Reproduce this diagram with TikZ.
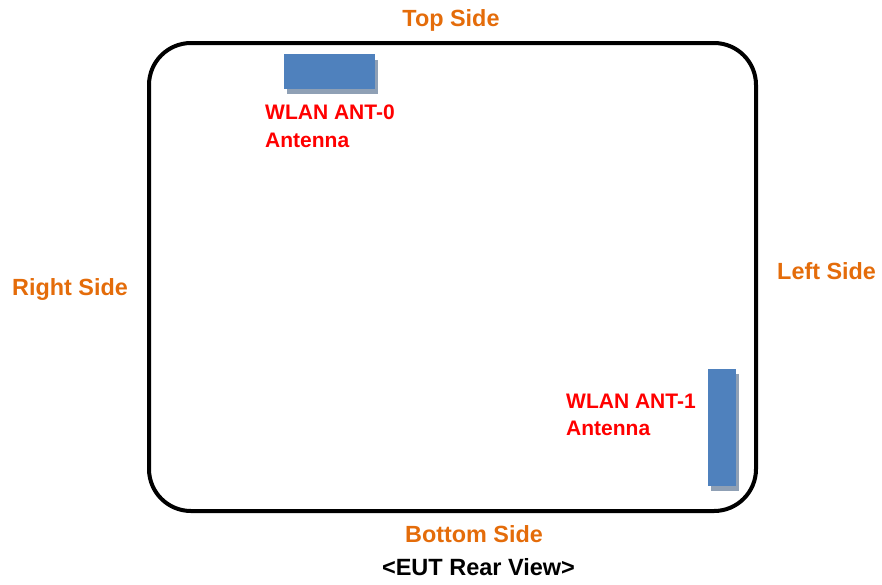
\documentclass[tikz,border=0pt]{standalone}
\usepackage{fontspec}
\setmainfont{Liberation Sans}
\definecolor{sideorange}{RGB}{228,108,10}
\definecolor{antblue}{RGB}{79,129,189}
\definecolor{antshadow}{RGB}{143,160,181}
\tikzset{
  sidelabel/.style={font=\fontsize{23.4}{27}\selectfont\bfseries, text=sideorange, inner sep=0pt},
  antlabel/.style={font=\fontsize{21}{27.5}\selectfont\bfseries, text=red, inner sep=0pt, align=left},
  titlelabel/.style={font=\fontsize{23.5}{27}\selectfont\bfseries, text=black, inner sep=0pt},
  antbody/.style={fill=antblue, draw=none},
  antshade/.style={fill=antshadow, draw=none},
}
\begin{document}
\begin{tikzpicture}[x=1pt,y=-1pt]
  \useasboundingbox (0,0) rectangle (882,584);
  % housing
  \draw[line width=4pt, rounded corners=42pt] (149,43) rectangle (756,511);
  % antenna 0
  \fill[antshade] (287,60) rectangle (378,94);
  \fill[antbody] (284,54) rectangle (375,89);
  % antenna 1
  \fill[antshade] (711,374) rectangle (739,491);
  \fill[antbody] (708,369) rectangle (736,486);
  % side labels
  \node[sidelabel, anchor=base] (top) at (451,26) {Top Side};
  \node[sidelabel, anchor=base west] (left) at (777,279) {Left Side};
  \node[sidelabel, anchor=base west] (right) at (12,295) {Right Side};
  \node[sidelabel, anchor=base] (bottom) at (474,542) {Bottom Side};
  \node[titlelabel, anchor=base] (title) at (478.5,575) {<EUT Rear View>};
  % antenna labels
  \node[antlabel, anchor=base west] (a0) at (265,119.5) {WLAN ANT-0};
  \node[antlabel, anchor=base west] (a0b) at (265,147) {Antenna};
  \node[antlabel, anchor=base west] (a1) at (566,408) {WLAN ANT-1};
  \node[antlabel, anchor=base west] (a1b) at (566,435) {Antenna};
\end{tikzpicture}
\end{document}
